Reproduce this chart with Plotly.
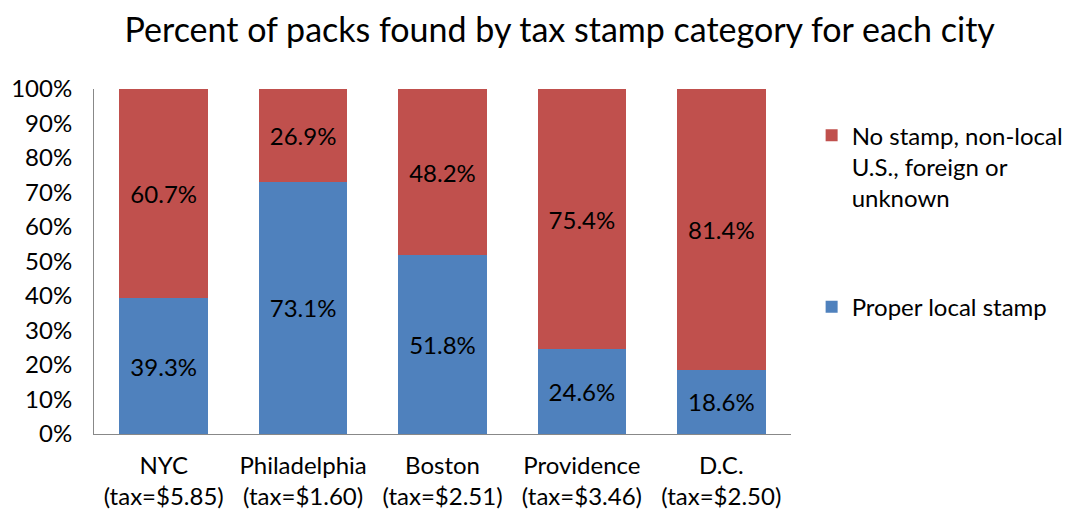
import plotly.graph_objects as go

cities = ["NYC<br>(tax=$5.85)", "Philadelphia<br>(tax=$1.60)", "Boston<br>(tax=$2.51)",
          "Providence<br>(tax=$3.46)", "D.C.<br>(tax=$2.50)"]
proper_local = [39.3, 73.1, 51.8, 24.6, 18.6]
non_local = [60.7, 26.9, 48.2, 75.4, 81.4]
tick_vals = [0, 10, 20, 30, 40, 50, 60, 70, 80, 90, 100]
tick_text = [f"{v}%" for v in tick_vals]

FONT = "Lato"
BLUE = "#4F81BD"
RED = "#C0504D"

fig = go.Figure()
fig.add_trace(go.Bar(
    x=cities, y=proper_local, name="Proper local stamp",
    marker=dict(color=BLUE, line=dict(width=0)),
    text=[f"{v:.1f}%" for v in proper_local], textposition="inside",
    insidetextanchor="middle", textfont=dict(size=24, color="black", family=FONT),
    legendgroup="b", legendrank=2, width=0.636,
))
fig.add_trace(go.Bar(
    x=cities, y=non_local, name="No stamp, non-local<br>U.S., foreign or<br>unknown",
    marker=dict(color=RED, line=dict(width=0)),
    text=[f"{v:.1f}%" for v in non_local], textposition="inside",
    insidetextanchor="middle", textfont=dict(size=24, color="black", family=FONT),
    legendgroup="a", legendrank=1, width=0.636,
))

fig.update_layout(
    width=1063, height=505,
    barmode="stack",
    paper_bgcolor="white", plot_bgcolor="white",
    font=dict(family=FONT, size=24, color="black"),
    title=dict(text="Percent of packs found by tax stamp category for each city",
               x=0.519, xanchor="center", y=0.956, yanchor="middle",
               font=dict(size=34, family=FONT, color="black")),
    margin=dict(l=86, r=280, t=81, b=79, pad=0),
    legend=dict(xref="container", yref="container",
                x=0.756, xanchor="left", y=0.792, yanchor="top",
                traceorder="grouped", tracegroupgap=75, valign="top",
                font=dict(size=24, family=FONT, color="black"),
                itemwidth=30),
    showlegend=True,
)
fig.update_xaxes(showline=True, linecolor="#888888", linewidth=1, ticks="",
                 ticklabelstandoff=10, automargin=False,
                 tickfont=dict(size=24, family=FONT, color="black"), showgrid=False)
fig.update_yaxes(range=[0, 100], tickvals=tick_vals, ticktext=tick_text,
                 showline=True, linecolor="#888888", linewidth=1, ticks="",
                 ticklabelstandoff=16, automargin=False,
                 showgrid=False, zeroline=False,
                 tickfont=dict(size=24, family=FONT, color="black"))

fig.write_html("out.html")
